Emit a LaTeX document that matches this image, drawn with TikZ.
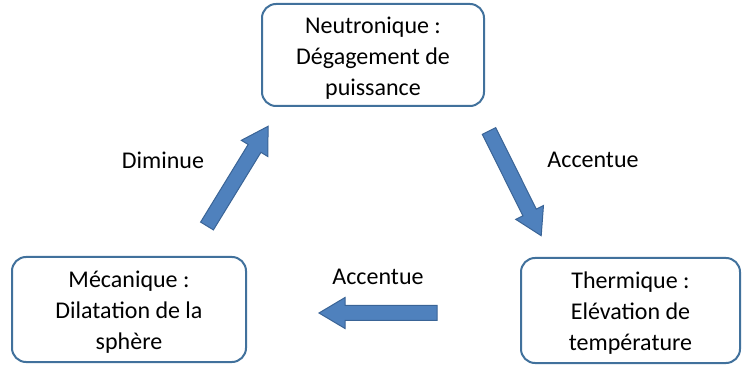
\documentclass[tikz,border=0pt]{standalone}
\usepackage{fontspec}
\setmainfont{Carlito}
\definecolor{boxc}{HTML}{41719C}
\definecolor{arrfill}{HTML}{4F81BD}
\definecolor{arrdraw}{HTML}{3A6496}
\tikzset{
  box/.style={draw=boxc, line width=2pt, rounded corners=14pt, fill=white},
  boxtext/.style={align=center, font=\fontsize{24}{31}\selectfont, inner sep=0pt},
  lbl/.style={font=\fontsize{24}{28}\selectfont, inner sep=0pt},
  blockarrow/.style={fill=arrfill, draw=arrdraw, line width=1pt, line join=miter}
}
% #1 start coord, #2 angle, #3 length
\newcommand{\myblockarrow}[3]{%
  \begin{scope}[shift={(#1)}, rotate=#2]
    \draw[blockarrow] (0,-7.5) -- (#3-26,-7.5) -- (#3-26,-15.5) -- (#3,0) -- (#3-26,15.5) -- (#3-26,7.5) -- (0,7.5) -- cycle;
  \end{scope}}
\begin{document}
\begin{tikzpicture}[x=1pt,y=1pt]
\useasboundingbox (0,0) rectangle (742,367);
\node[box, minimum width=222pt, minimum height=102pt] (neu) at (373,312) {};
\node[boxtext] (neut) at (373,309) {Neutronique :\\Dégagement de\\puissance};
\node[box, minimum width=234pt, minimum height=105pt] (meca) at (129,57.5) {};
\node[boxtext] (mecat) at (129,55) {Mécanique :\\Dilatation de la\\sphère};
\node[box, minimum width=219pt, minimum height=105pt] (ther) at (630.5,56.5) {};
\node[boxtext] (thert) at (630.5,54) {Thermique :\\Elévation de\\température};
\coordinate (a1) at (207,141);
\coordinate (a2) at (489,236);
\coordinate (a3) at (437,54);
\myblockarrow{a1}{58.5}{117}
\myblockarrow{a2}{-63.5}{117}
\myblockarrow{a3}{180}{118}
\node[lbl] (l1) at (163,207) {Diminue};
\node[lbl] (l2) at (593,207) {Accentue};
\node[lbl] (l3) at (378,90) {Accentue};
\end{tikzpicture}
\end{document}
